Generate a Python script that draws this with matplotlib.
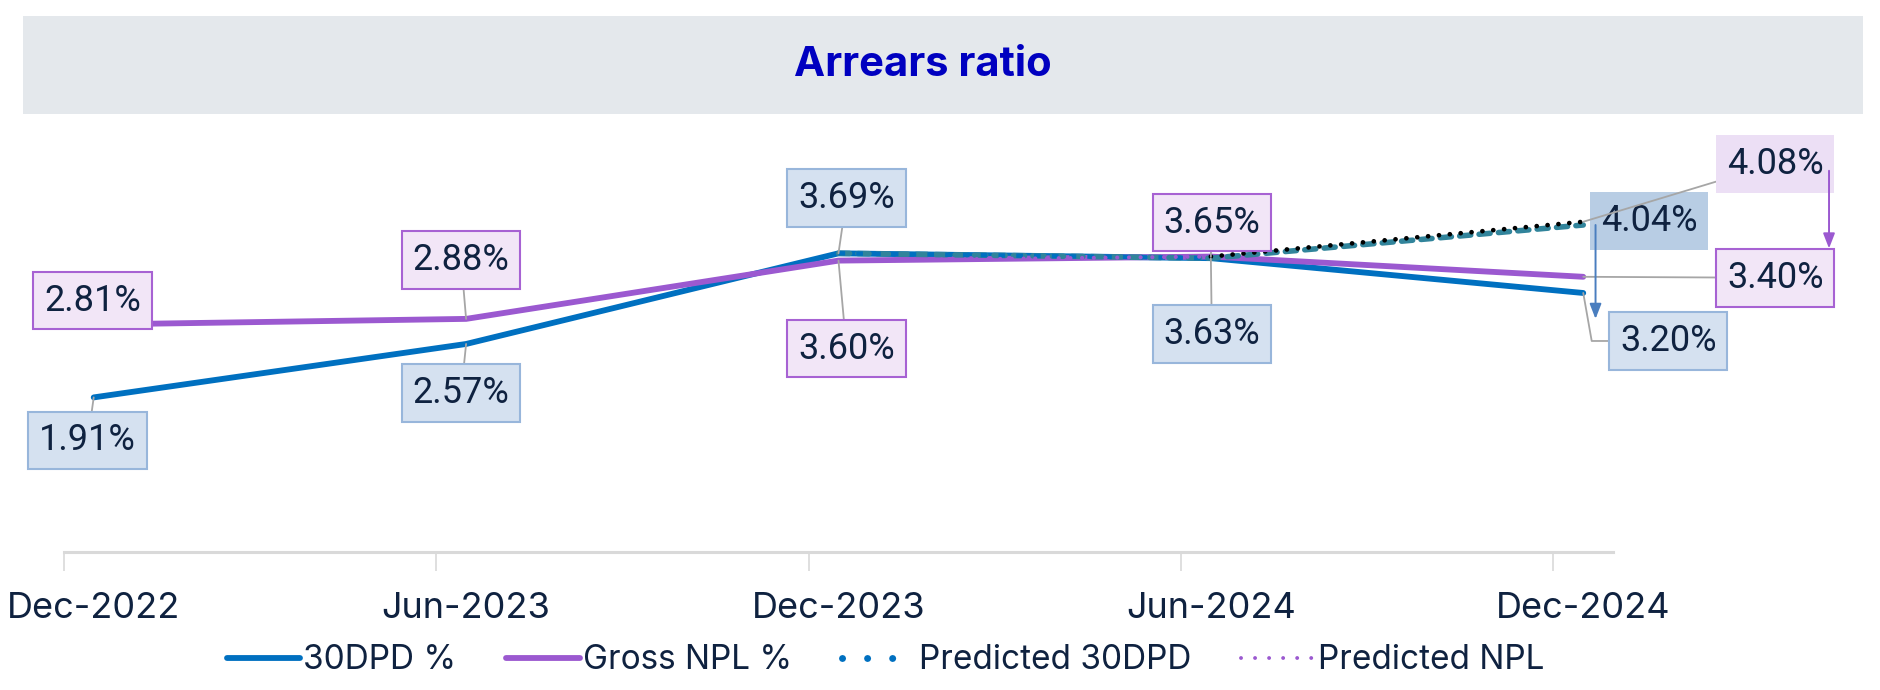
import numpy as np
import matplotlib.pyplot as plt
from matplotlib.patches import Rectangle

periods = ['Dec-2022', 'Jun-2023', 'Dec-2023', 'Jun-2024', 'Dec-2024']
dpd30 = [1.91, 2.57, 3.69, 3.63, 3.20]
npl = [2.81, 2.88, 3.60, 3.65, 3.40]
pred_dpd30 = [np.nan, np.nan, 3.69, 3.63, 4.04]
pred_npl = [np.nan, 2.88, 3.60, 3.65, 4.08]

# label offsets in pixels (dx, dy) relative to each point
dpd_offsets = [(-6, -43), (-5, -49), (8, 55), (1, -76), (85, -48)]
npl_offsets = [(-1, 24), (-5, 59), (8, -88), (1, 34), (192, -1)]

BLUE = '#0070c0'
PURPLE = '#9b59d0'
TEAL = '#31849b'
NAVY = '#0f2240'
LEADER = '#a6a6a6'

plt.rcParams['font.family'] = ['Inter', 'DejaVu Sans']

fig = plt.figure(figsize=(18.8, 6.9), dpi=100)
fig.patches.append(Rectangle((0.0122, 0.835), 0.979, 0.142, transform=fig.transFigure,
                             facecolor='#e4e8ec', edgecolor='none', zorder=0))
fig.text(0.491, 0.906, 'Arrears ratio', ha='center', va='center', fontsize=30,
         fontweight='bold', color='#0000c0')

ax = fig.add_axes([0.034, 0.2, 0.824, 0.61])
ax.set_facecolor('none')

x = np.arange(len(periods)) + 0.08
ax.plot(x, dpd30, color=BLUE, lw=4.2, solid_capstyle='round', label='30DPD %', zorder=3)
ax.plot(x, npl, color=PURPLE, lw=4.2, solid_capstyle='round', label='Gross NPL %', zorder=3)
ax.plot(x, pred_dpd30, color=TEAL, lw=4.0, ls=(0, (2.0, 1.5)), dash_capstyle='round',
        zorder=4)
ax.plot(x[2:4], pred_dpd30[2:4], color=BLUE, lw=3.2, ls=(0, (1.5, 2.5)), zorder=4)
ax.plot(x[:4], pred_npl[:4], color=PURPLE, lw=3.0, ls=(0, (0.01, 2.8)),
        dash_capstyle='round', zorder=5)
ax.plot(x[3:], pred_npl[3:], color='black', lw=3.4, ls=(0, (0.01, 2.3)),
        dash_capstyle='round', zorder=5)

# legend-only handles
ax.plot([], [], color=BLUE, lw=5.0, ls=(0, (0.01, 3.6)), dash_capstyle='round',
        label='Predicted 30DPD')
ax.plot([], [], color=PURPLE, lw=2.8, ls=(0, (0.01, 3.6)), dash_capstyle='round',
        label='Predicted NPL')


def label(xv, yv, txt, off, face, edge, leader=True, conn='arc3'):
    ap = None
    if leader:
        ap = dict(arrowstyle='-', color=LEADER, lw=1.3, shrinkA=0, shrinkB=0,
                  connectionstyle=conn)
    ax.annotate(txt, xy=(xv, yv), xytext=off, textcoords='offset pixels',
                ha='center', va='center', fontsize=26, color=NAVY,
                family=['Roboto', 'DejaVu Sans'],
                bbox=dict(boxstyle='square,pad=0.3', fc=face, ec=edge, lw=1.5),
                arrowprops=ap, zorder=6)


for i, v in enumerate(dpd30):
    conn = 'angle,angleA=0,angleB=100,rad=0' if i == 4 else 'arc3'
    label(x[i], v, f'{v:.2f}%', dpd_offsets[i], '#d5e1f0', '#98b6db', conn=conn)
for i, v in enumerate(npl):
    label(x[i], v, f'{v:.2f}%', npl_offsets[i], '#f2e6f7', '#a762d3', leader=(i != 0))

label(x[4], pred_dpd30[4], f'{pred_dpd30[4]:.2f}%', (66, 4), '#b8cde4', 'none', leader=False)
label(x[4], pred_npl[4], f'{pred_npl[4]:.2f}%', (192, 58), '#ecdff5', 'none')

# arrows from predicted to actual
ax.annotate('', xy=(x[4] + 0.033, 2.88), xytext=(x[4] + 0.033, pred_dpd30[4]),
            arrowprops=dict(arrowstyle='-|>,head_length=0.9,head_width=0.35', color='#4a7ebf',
                            lw=1.4, shrinkA=0, shrinkB=0),
            annotation_clip=False, zorder=7)
ax.annotate('', xy=(4.74, 3.75), xytext=(4.74, 4.71),
            arrowprops=dict(arrowstyle='-|>,head_length=0.9,head_width=0.35', color=PURPLE,
                            lw=1.4, shrinkA=0, shrinkB=0),
            annotation_clip=False, zorder=7)

ax.set_xlim(0, 4.16)
ax.set_ylim(0, 5.2)
ax.set_yticks([])
ax.set_xticks(x)
ax.set_xticklabels(periods)
ax.set_xticks(np.arange(len(periods)), minor=True)
ax.tick_params(axis='x', which='major', length=0, pad=29, labelsize=26, labelcolor=NAVY)
ax.tick_params(axis='x', which='minor', length=14, width=1.2, color='#d9d9d9')
for s in ['top', 'right', 'left']:
    ax.spines[s].set_visible(False)
ax.spines['bottom'].set_color('#d9d9d9')
ax.spines['bottom'].set_linewidth(2.2)

leg = fig.legend(loc='center', bbox_to_anchor=(0.471, 0.043), ncol=4, frameon=False,
                 fontsize=24, handlelength=2.2, columnspacing=1.5, handletextpad=0.1)
for t in leg.get_texts():
    t.set_color(NAVY)

fig.savefig('out.png', dpi=100)
